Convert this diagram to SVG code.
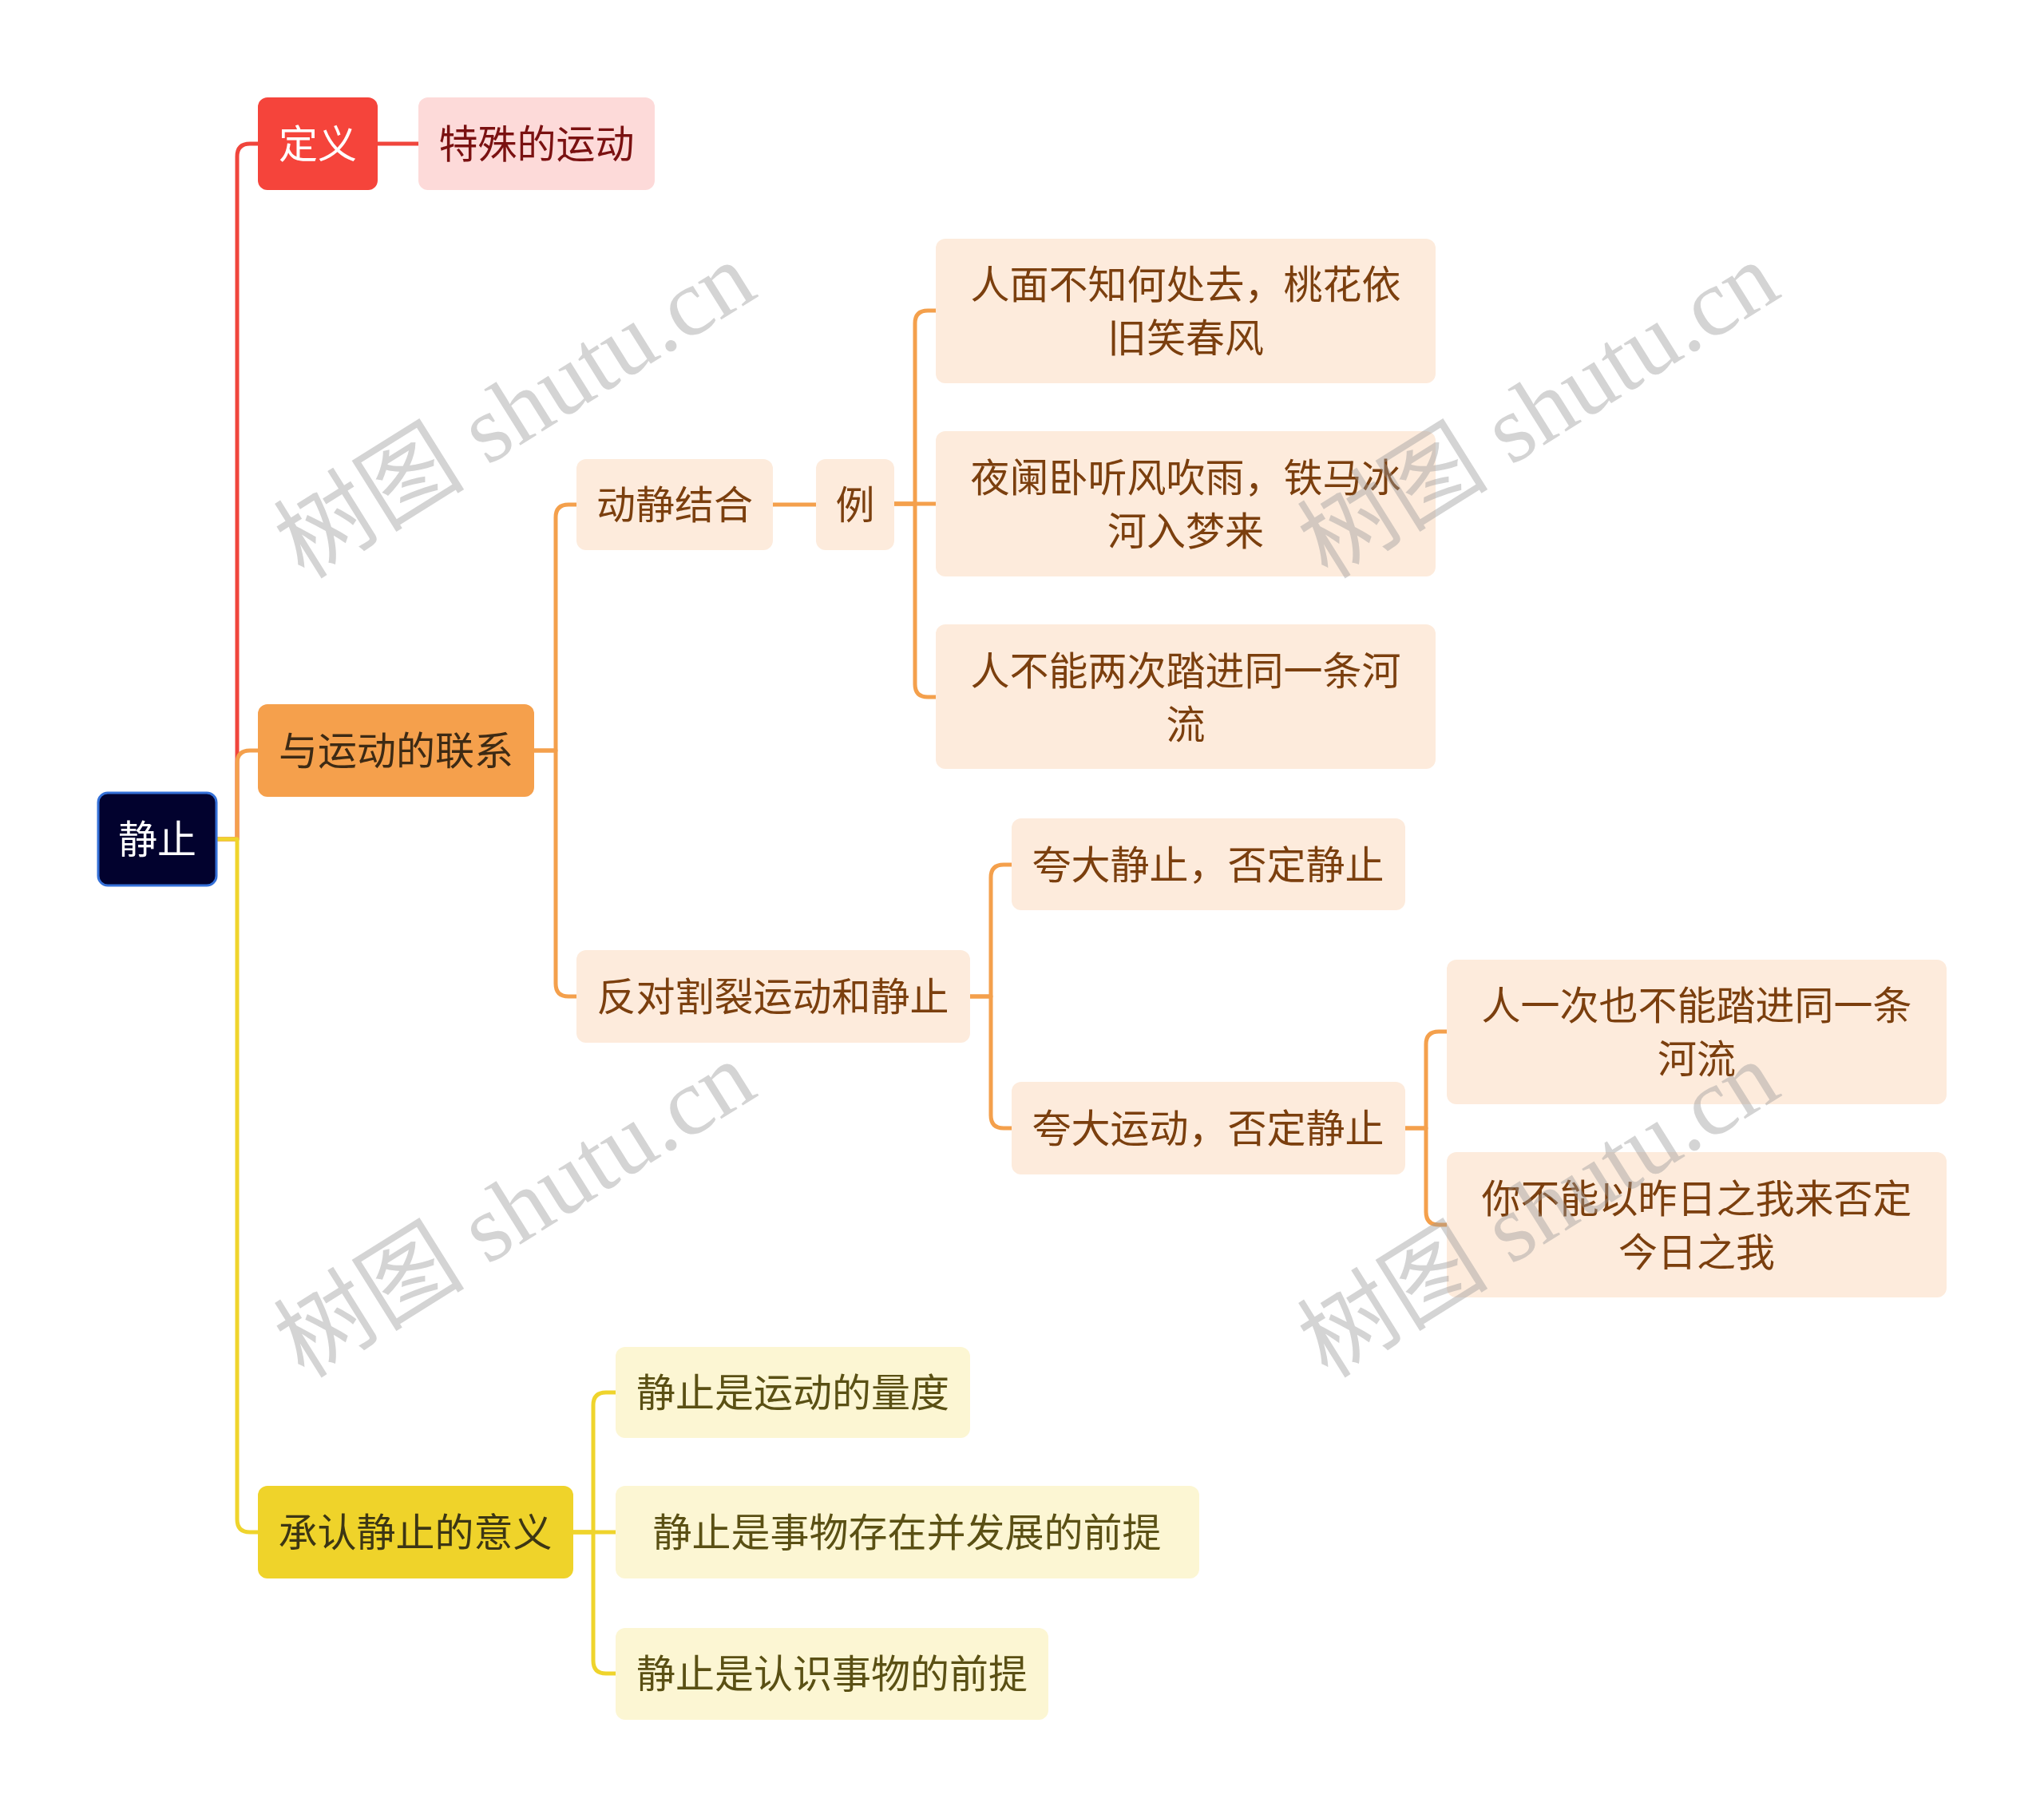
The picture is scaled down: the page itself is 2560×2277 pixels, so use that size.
<svg xmlns="http://www.w3.org/2000/svg" width="2560" height="2277" viewBox="0 0 2560 2277">
<style>
text{font-family:"Noto Sans CJK SC","Noto Sans",sans-serif;font-size:49px;text-anchor:middle;dominant-baseline:central}
.c{fill:none;stroke-width:5;stroke-linejoin:round;stroke-linecap:round}
.red{stroke:#f0453c}.org{stroke:#f4a04c}.yel{stroke:#efd42c}
.o2 rect{fill:#fdebdc}.o2 text{fill:#7b3f0e}
.y2 rect{fill:#fcf6d3}.y2 text{fill:#5a5014}
.wm{font-family:"Liberation Serif","Noto Sans CJK SC",serif;font-size:120px;fill:#9a9a9a;opacity:0.42}
</style>
<rect width="2560" height="2277" fill="#ffffff"/>
<g id="connectors">
<path class="c red" d="M271 1051 H297 V196 Q297 180 313 180 H323"/>
<path class="c red" d="M473 180 H524"/>
<path class="c org" d="M271 1051 H297 V956 Q297 940 313 940 H323"/>
<path class="c org" d="M669 940 H696 V648 Q696 632 712 632 H722"/>
<path class="c org" d="M669 940 H696 V1232 Q696 1248 712 1248 H722"/>
<path class="c org" d="M968 632 H1022"/>
<path class="c org" d="M1120 631 H1146 V405 Q1146 389 1162 389 H1172"/>
<path class="c org" d="M1120 631 H1172"/>
<path class="c org" d="M1120 631 H1146 V857 Q1146 873 1162 873 H1172"/>
<path class="c org" d="M1215 1248 H1241 V1099 Q1241 1083 1257 1083 H1267"/>
<path class="c org" d="M1215 1248 H1241 V1397 Q1241 1413 1257 1413 H1267"/>
<path class="c org" d="M1760 1413 H1786 V1308 Q1786 1292 1802 1292 H1812"/>
<path class="c org" d="M1760 1413 H1786 V1518 Q1786 1534 1802 1534 H1812"/>
<path class="c yel" d="M271 1051 H297 V1903 Q297 1919 313 1919 H323"/>
<path class="c yel" d="M718 1919 H743 V1760 Q743 1744 759 1744 H771"/>
<path class="c yel" d="M718 1919 H771"/>
<path class="c yel" d="M718 1919 H743 V2080 Q743 2096 759 2096 H771"/>
</g>
<g id="root"><rect x="123" y="993" width="148" height="116" rx="12" fill="#02022e" stroke="#3470d8" stroke-width="3"/><text x="197" y="1047" fill="#ffffff">静止</text></g>
<g id="n-dingyi"><rect x="323" y="122" width="150" height="116" rx="12" fill="#f5443b"/><text x="398" y="176" fill="#ffffff">定义</text></g>
<g id="n-teshu"><rect x="524" y="122" width="296" height="116" rx="12" fill="#fddad9"/><text x="672" y="176" fill="#7a1111">特殊的运动</text></g>
<g id="n-lianxi"><rect x="323" y="882" width="346" height="116" rx="12" fill="#f5a04c"/><text x="496" y="936" fill="#3d2a14">与运动的联系</text></g>
<g id="n-dongjing" class="o2"><rect x="722" y="575" width="246" height="114" rx="12"/><text x="845" y="628">动静结合</text></g>
<g id="n-li" class="o2"><rect x="1022" y="575" width="98" height="114" rx="12"/><text x="1071" y="628">例</text></g>
<g id="n-ex1" class="o2"><rect x="1172" y="299" width="626" height="181" rx="12"/><text x="1485" y="352">人面不知何处去，桃花依</text><text x="1485" y="419">旧笑春风</text></g>
<g id="n-ex2" class="o2"><rect x="1172" y="540" width="626" height="182" rx="12"/><text x="1485" y="594">夜阑卧听风吹雨，铁马冰</text><text x="1485" y="661">河入梦来</text></g>
<g id="n-ex3" class="o2"><rect x="1172" y="782" width="626" height="181" rx="12"/><text x="1485" y="836">人不能两次踏进同一条河</text><text x="1485" y="903">流</text></g>
<g id="n-fandui" class="o2"><rect x="722" y="1190" width="493" height="116" rx="12"/><text x="968" y="1244">反对割裂运动和静止</text></g>
<g id="n-kuada1" class="o2"><rect x="1267" y="1025" width="493" height="115" rx="12"/><text x="1513" y="1079">夸大静止，否定静止</text></g>
<g id="n-kuada2" class="o2"><rect x="1267" y="1355" width="493" height="116" rx="12"/><text x="1513" y="1409">夸大运动，否定静止</text></g>
<g id="n-ex4" class="o2"><rect x="1812" y="1202" width="626" height="181" rx="12"/><text x="2125" y="1255">人一次也不能踏进同一条</text><text x="2125" y="1322">河流</text></g>
<g id="n-ex5" class="o2"><rect x="1812" y="1443" width="626" height="182" rx="12"/><text x="2125" y="1497">你不能以昨日之我来否定</text><text x="2125" y="1564">今日之我</text></g>
<g id="n-chengren"><rect x="323" y="1861" width="395" height="116" rx="12" fill="#efd32a"/><text x="520" y="1915" fill="#3c3614">承认静止的意义</text></g>
<g id="n-y1" class="y2"><rect x="771" y="1687" width="444" height="114" rx="12"/><text x="993" y="1740">静止是运动的量度</text></g>
<g id="n-y2" class="y2"><rect x="771" y="1861" width="731" height="116" rx="12"/><text x="1136" y="1915">静止是事物存在并发展的前提</text></g>
<g id="n-y3" class="y2"><rect x="771" y="2039" width="542" height="115" rx="12"/><text x="1042" y="2092">静止是认识事物的前提</text></g>
<g id="watermarks">
<text class="wm" x="645" y="514" transform="rotate(-32 645 514)">树图 shutu.cn</text>
<text class="wm" x="1927" y="514" transform="rotate(-32 1927 514)">树图 shutu.cn</text>
<text class="wm" x="645" y="1515" transform="rotate(-32 645 1515)">树图 shutu.cn</text>
<text class="wm" x="1927" y="1515" transform="rotate(-32 1927 1515)">树图 shutu.cn</text>
</g>
</svg>
